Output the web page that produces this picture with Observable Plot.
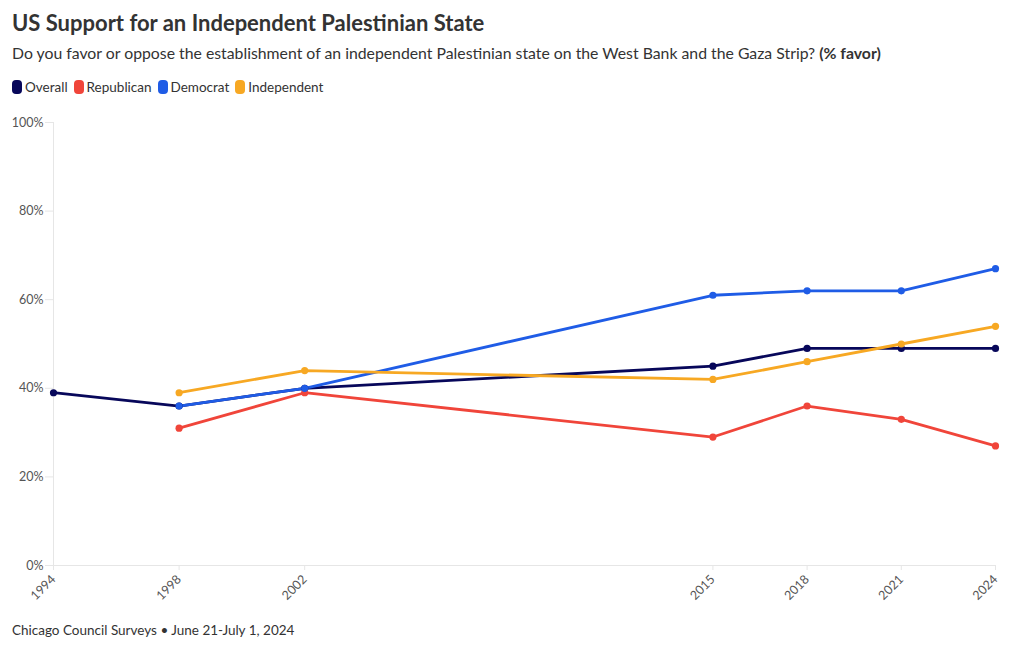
<!DOCTYPE html>
<html><head><meta charset="utf-8">
<script src="https://cdn.jsdelivr.net/npm/d3@7"></script>
<script src="https://cdn.jsdelivr.net/npm/@observablehq/plot@0.6"></script>
<style>
body{margin:0;background:#fff;font-family:Lato,"Noto Sans",sans-serif;color:#333;width:1020px;height:650px;overflow:hidden}
#title{position:absolute;left:12px;top:9px;font-size:22px;font-weight:700;color:#333}
#sub{position:absolute;left:12px;top:43px;font-size:15.8px;color:#333}
#legend{position:absolute;left:12px;top:79px;font-size:13.5px;color:#333;display:flex;gap:6px}
#legend span.it{display:flex;align-items:center}
#legend i{display:inline-block;width:10px;height:14px;border-radius:4px;margin-right:3px}
#chart{position:absolute;left:0;top:105px}
#cap{position:absolute;left:12px;top:622px;font-size:13.5px;color:#333}
</style></head><body>
<div id="title">US Support for an Independent Palestinian State</div>
<div id="sub">Do you favor or oppose the establishment of an independent Palestinian state on the West Bank and the Gaza Strip? <b>(% favor)</b></div>
<div id="legend"></div>
<div id="chart"></div>
<div id="cap">Chicago Council Surveys • June 21-July 1, 2024</div>
<script>
const seriesNames = ["Overall","Republican","Democrat","Independent"];
const seriesColors = ["#07075a","#f0453a","#1f5ce6","#f7a823"];
const years = [1994,1998,2002,2015,2018,2021,2024];
const overall = [39,36,40,45,49,49,49];
const republican = [null,31,39,29,36,33,27];
const democrat = [null,36,40,61,62,62,67];
const independent = [null,39,44,42,46,50,54];
const yTicks = [0,20,40,60,80,100];

const all = [overall,republican,democrat,independent];
const data = [];
all.forEach((vals,si)=>vals.forEach((v,i)=>{ if(v!=null) data.push({series:seriesNames[si],year:years[i],value:v}); }));

const leg = document.getElementById("legend");
seriesNames.forEach((n,i)=>{
  const s=document.createElement("span");s.className="it";
  s.innerHTML=`<i style="background:${seriesColors[i]}"></i>${n}`;leg.appendChild(s);
});

const chart = Plot.plot({
  width:1020,height:510,
  marginLeft:53,marginRight:25,marginTop:17,marginBottom:50,
  style:{fontFamily:"Lato, 'Noto Sans', sans-serif",fontSize:"12.5px",color:"#555"},
  x:{domain:[1994,2024],ticks:years,tickFormat:d=>String(d),tickRotate:-45,label:null,tickSize:5},
  y:{domain:[0,100],ticks:yTicks,tickFormat:d=>d+"%",label:null,tickSize:8,tickPadding:2},
  color:{domain:seriesNames,range:seriesColors},
  marks:[
    Plot.ruleX([1994],{stroke:"#e6e6e6"}),
    Plot.ruleY([0],{stroke:"#e6e6e6"}),
    Plot.axisY({ticks:yTicks,tickFormat:d=>d+"%",stroke:"#e6e6e6",tickSize:8,tickPadding:2,label:null,fill:"#555"}),
    Plot.axisX({ticks:years,tickFormat:d=>String(d),tickRotate:-45,stroke:"#e6e6e6",tickSize:5,label:null,fill:"#555"}),
    Plot.line(data,{x:"year",y:"value",z:"series",stroke:"series",strokeWidth:2.8,curve:"linear"}),
    Plot.dot(data,{x:"year",y:"value",fill:"series",r:3.6})
  ]
});
document.getElementById("chart").appendChild(chart);
</script>
</body></html>
